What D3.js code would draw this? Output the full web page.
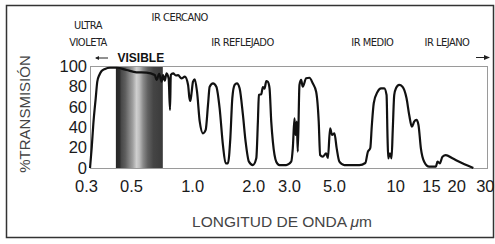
<!DOCTYPE html>
<html>
<head>
<meta charset="utf-8">
<script src="https://cdn.jsdelivr.net/npm/d3@7"></script>
<style>
  body { margin: 0; background: #fff; }
  svg { display: block; }
</style>
</head>
<body>
<svg id="chart" width="495" height="244"></svg>
<script>
// wavelength (um) and % transmission
const wavelengths = [
  0.314, 0.320, 0.326, 0.335, 0.341, 0.349, 0.358, 0.372, 0.394, 0.425,
  0.475, 0.532, 0.596, 0.655, 0.668, 0.688, 0.707, 0.719, 0.733, 0.748,
  0.766, 0.778, 0.785, 0.806, 0.831, 0.853, 0.886, 0.920, 0.955, 0.968,
  0.979, 0.992, 1.010, 1.030, 1.057, 1.090, 1.131, 1.166, 1.197, 1.220,
  1.267, 1.316, 1.366, 1.418, 1.462, 1.501, 1.542, 1.577, 1.619, 1.662,
  1.713, 1.779, 1.834, 1.904, 1.992, 2.070, 2.108, 2.132, 2.191, 2.231,
  2.274, 2.318, 2.360, 2.406, 2.453, 2.498, 2.596, 2.694, 2.906, 3.076,
  3.132, 3.193, 3.229, 3.277, 3.314, 3.378, 3.444, 3.507, 3.644, 3.783,
  3.928, 4.082, 4.203, 4.271, 4.398, 4.571, 4.664, 4.782, 4.891, 5.021,
  5.153, 5.313, 5.622, 6.662, 7.129, 7.333, 7.544, 7.673, 7.849, 8.195,
  8.516, 8.840, 9.072, 9.175, 9.248, 9.428, 9.601, 9.732, 9.898, 10.09,
  10.47, 10.87, 11.38, 11.73, 12.09, 12.41, 12.74, 13.03, 13.39, 13.90,
  14.71, 15.87, 16.16, 16.60, 17.10, 17.77, 19.15, 21.44, 24.28
];
const transmission = [
  0, 19.6, 43.1, 68.6, 84.6, 91.2, 95.1, 97.1, 98.3, 98.3,
  96.1, 93.8, 93.6, 91.2, 86.3, 92.2, 84.6, 91.2, 85.6, 92.8,
  87.7, 56.9, 91.2, 92.8, 90.7, 91.0, 87.9, 89.5, 81.4, 69.6,
  65.7, 72.5, 84.6, 86.8, 74.8, 45.4, 34.0, 37.3, 61.8, 79.7,
  83.0, 79.7, 58.5, 22.5, 4.6, 4.6, 29.1, 68.3, 81.4, 83.0,
  78.1, 52.0, 25.8, 6.2, 2.9, 9.5, 45.4, 71.6, 72.5, 79.4,
  77.9, 85.3, 84.6, 78.1, 45.4, 25.8, 6.2, 2.9, 2.9, 6.2,
  19.3, 48.7, 32.4, 45.4, 16.0, 81.4, 86.3, 79.7, 87.9, 88.5,
  83.0, 74.8, 45.4, 12.7, 11.1, 14.4, 9.8, 38.9, 32.4, 34.0,
  19.3, 6.2, 2.9, 2.9, 4.9, 15.7, 19.6, 41.2, 63.7, 74.8,
  78.1, 78.1, 71.6, 29.1, 9.5, 14.4, 9.5, 37.3, 71.6, 78.1,
  81.4, 79.7, 68.3, 52.0, 40.5, 45.4, 47.1, 42.2, 19.3, 6.2,
  1.3, 1.3, 6.2, 4.6, 11.1, 12.7, 9.5, 4.6, 0
];

const xTicks = [0.3, 0.5, 1, 2, 3, 5, 10, 15, 20, 30];
const xTickLabels = ["0.3", "0.5", "1.0", "2.0", "3.0", "5.0", "10", "15", "20", "30"];
const yTicks = [0, 20, 40, 60, 80, 100];
const visibleBand = [0.421, 0.717];
const regionNames = ["ULTRA\nVIOLETA", "IR CERCANO", "IR REFLEJADO", "IR MEDIO", "IR LEJANO"];
const regionCenters = [0.307, 0.869, 1.77, 7.72, 18.0];

const svg = d3.select("#chart");

// outer box
svg.append("rect")
    .attr("x", 6.5).attr("y", 5.5)
    .attr("width", 487).attr("height", 232)
    .attr("fill", "none")
    .attr("stroke", "#333")
    .attr("stroke-width", 1.5);

var x = d3.scaleLog().domain([0.3, 30]).range([86, 492]);
var y = d3.scaleLinear().domain([0, 100]).range([168, 66]);

// visible band gradient
var grad = svg.append("defs").append("linearGradient")
    .attr("id", "visgrad")
    .attr("x1", "0%").attr("x2", "100%").attr("y1", "0%").attr("y2", "0%");
[[0, "#262626"], [0.08, "#2e2e2e"], [0.12, "#4a4a4a"], [0.2, "#5e5e5e"], [0.28, "#808080"],
 [0.36, "#a0a0a0"], [0.44, "#cfcfcf"], [0.5, "#bdbdbd"], [0.58, "#8a8a8a"], [0.68, "#606060"],
 [0.8, "#454545"], [1, "#3a3a3a"]].forEach(function (s) {
    grad.append("stop").attr("offset", s[0]).attr("stop-color", s[1]);
});

svg.append("rect")
    .attr("x", x(visibleBand[0]))
    .attr("y", y(100))
    .attr("width", x(visibleBand[1]) - x(visibleBand[0]))
    .attr("height", y(0) - y(100))
    .attr("fill", "url(#visgrad)");

// plot frame
svg.append("rect")
    .attr("x", 90.5).attr("y", y(100) + 0.5)
    .attr("width", 397).attr("height", y(0) - y(100))
    .attr("fill", "none")
    .attr("stroke", "#9a9a9a")
    .attr("stroke-width", 1);

// axes (labels only)
var xAxis = svg.append("g")
    .attr("transform", "translate(0," + y(0) + ")")
    .call(d3.axisBottom(x).tickValues(xTicks)
        .tickFormat(function (d, i) { return xTickLabels[i]; })
        .tickSize(0).tickPadding(12));
xAxis.select(".domain").remove();
xAxis.selectAll("text")
    .attr("font-family", "'Liberation Sans', Arial, sans-serif")
    .attr("font-size", 16.5)
    .attr("fill", "#1a1a1a");
// last label sits against the right border, like the original
xAxis.selectAll(".tick").filter(function (d) { return d === 30; }).select("text")
    .attr("text-anchor", "end")
    .attr("x", 494 - x(30));

var yAxis = svg.append("g")
    .attr("transform", "translate(89,0)")
    .call(d3.axisLeft(y).tickValues(yTicks).tickSize(0).tickPadding(2));
yAxis.select(".domain").remove();
yAxis.selectAll("text")
    .attr("font-family", "'Liberation Sans', Arial, sans-serif")
    .attr("font-size", 16.5)
    .attr("fill", "#1a1a1a");

// transmission curve
var pts = wavelengths.map(function (w, i) { return [w, transmission[i]]; });
var line = d3.line()
    .x(function (d) { return x(d[0]); })
    .y(function (d) { return y(Math.max(0, d[1])); })
    .curve(d3.curveMonotoneX);
svg.append("path")
    .datum(pts)
    .attr("d", line)
    .attr("fill", "none")
    .attr("stroke", "#111")
    .attr("stroke-width", 2.2)
    .attr("stroke-linejoin", "round");

// region labels
var small = "'Liberation Sans Narrow', 'DejaVu Sans Condensed', Arial, sans-serif";
regionNames.forEach(function (name, i) {
    var rows = name.split("\n");
    var top = (i === 0) ? 29 : (i === 1 ? 21 : 46);
    rows.forEach(function (r, j) {
        svg.append("text")
            .attr("x", x(regionCenters[i]))
            .attr("y", top + j * 17)
            .attr("text-anchor", "middle")
            .attr("font-family", small)
            .attr("font-size", 11)
            .attr("letter-spacing", -0.5)
            .attr("fill", "#222")
            .text(r);
    });
});

svg.append("text")
    .attr("x", x(0.559))
    .attr("y", 62)
    .attr("text-anchor", "middle")
    .attr("font-family", "'Liberation Sans', Arial, sans-serif")
    .attr("font-weight", "bold")
    .attr("font-size", 12)
    .attr("fill", "#111")
    .text("VISIBLE");

// arrows
svg.append("line")
    .attr("x1", 96).attr("y1", 58).attr("x2", 108).attr("y2", 58)
    .attr("stroke", "#222").attr("stroke-width", 1);
svg.append("path")
    .attr("d", d3.line()([[95, 58], [99, 56], [99, 60]]) + "Z")
    .attr("fill", "#222");
svg.append("line")
    .attr("x1", 476).attr("y1", 57.5).attr("x2", 487).attr("y2", 57.5)
    .attr("stroke", "#222").attr("stroke-width", 1);
svg.append("path")
    .attr("d", d3.line()([[490, 57.5], [484, 55], [484, 60]]) + "Z")
    .attr("fill", "#222");

// axis titles
svg.append("text")
    .attr("transform", "translate(30,114) rotate(-90)")
    .attr("text-anchor", "middle")
    .attr("font-family", "'Liberation Sans', Arial, sans-serif")
    .attr("font-size", 15)
    .attr("fill", "#444")
    .text("%TRANSMISIÓN");

var xt = svg.append("text")
    .attr("x", 282)
    .attr("y", 227)
    .attr("text-anchor", "middle")
    .attr("font-family", "'Liberation Sans', Arial, sans-serif")
    .attr("font-size", 15.5)
    .attr("fill", "#444");
xt.append("tspan").text("LONGITUD DE ONDA ");
xt.append("tspan").attr("font-style", "italic").text("\u03bc");
xt.append("tspan").text("m");
</script>
</body>
</html>
